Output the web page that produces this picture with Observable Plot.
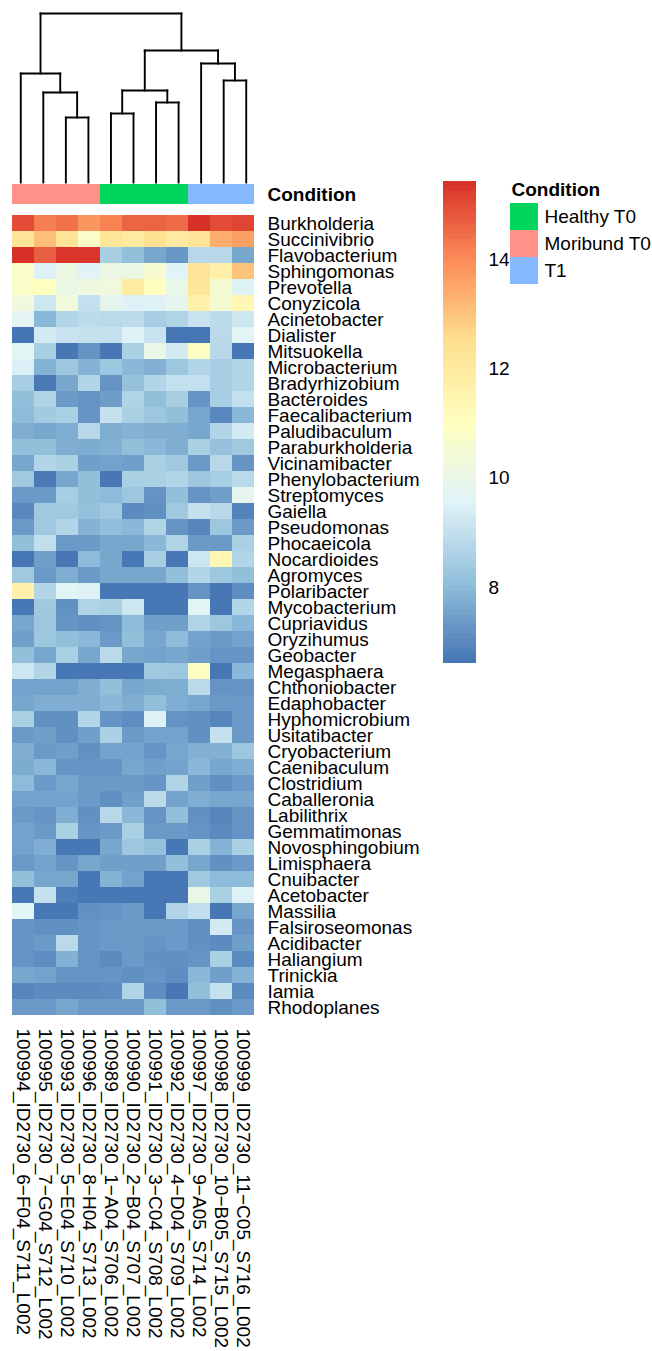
<!DOCTYPE html>
<html>
<head>
<meta charset="utf-8">
<script src="https://cdn.jsdelivr.net/npm/d3@7"></script>
<script src="https://cdn.jsdelivr.net/npm/@observablehq/plot@0.6"></script>
<style>
  html, body { margin: 0; padding: 0; background: #fff; }
  #chart { position: relative; width: 652px; height: 1351px; background: #fff; overflow: hidden; }
</style>
</head>
<body>
<div id="chart"></div>
<script>
// ---------------- data ----------------
const samples = [
  "100994_ID2730_6−F04_S711_L002",
  "100995_ID2730_7−G04_S712_L002",
  "100993_ID2730_5−E04_S710_L002",
  "100996_ID2730_8−H04_S713_L002",
  "100989_ID2730_1−A04_S706_L002",
  "100990_ID2730_2−B04_S707_L002",
  "100991_ID2730_3−C04_S708_L002",
  "100992_ID2730_4−D04_S709_L002",
  "100997_ID2730_9−A05_S714_L002",
  "100998_ID2730_10−B05_S715_L002",
  "100999_ID2730_11−C05_S716_L002"
];
const sampleCondition = [
  "Moribund T0","Moribund T0","Moribund T0","Moribund T0",
  "Healthy T0","Healthy T0","Healthy T0","Healthy T0",
  "T1","T1","T1"
];
const conditionLevels = ["Healthy T0", "Moribund T0", "T1"];
const conditionColors = ["#00D65C", "#FF9189", "#84B9FF"];

const genera = [
  "Burkholderia","Succinivibrio","Flavobacterium","Sphingomonas","Prevotella",
  "Conyzicola","Acinetobacter","Dialister","Mitsuokella","Microbacterium",
  "Bradyrhizobium","Bacteroides","Faecalibacterium","Paludibaculum","Paraburkholderia",
  "Vicinamibacter","Phenylobacterium","Streptomyces","Gaiella","Pseudomonas",
  "Phocaeicola","Nocardioides","Agromyces","Polaribacter","Mycobacterium",
  "Cupriavidus","Oryzihumus","Geobacter","Megasphaera","Chthoniobacter",
  "Edaphobacter","Hyphomicrobium","Usitatibacter","Cryobacterium","Caenibaculum",
  "Clostridium","Caballeronia","Labilithrix","Gemmatimonas","Novosphingobium",
  "Limisphaera","Cnuibacter","Acetobacter","Massilia","Falsiroseomonas",
  "Acidibacter","Haliangium","Trinickia","Iamia","Rhodoplanes"
];

// one row per genus, columns in the order of `samples`
const abundance = [
  [15.0,14.2,14.4,13.8,14.1,14.6,14.6,14.5,15.4,15.0,15.1],
  [12.3,13.1,12.3,10.8,12.2,12.0,12.4,12.0,12.3,13.4,13.6],
  [15.43,14.7,15.35,15.35,8.5,8.1,7.6,7.3,8.8,8.8,7.6],
  [10.8,9.5,10.1,9.6,10.1,10.1,10.6,9.55,12.3,11.7,13.0],
  [10.8,11.0,10.0,10.2,10.3,11.9,11.05,10.0,12.2,10.5,9.5],
  [10.3,9.2,10.3,9.0,9.8,9.5,9.5,9.8,11.7,10.5,11.4],
  [9.7,7.95,8.7,8.9,8.85,8.9,8.5,8.65,9.1,8.9,9.2],
  [6.61,9.3,9.1,9.05,9.05,9.5,9.1,6.62,6.62,8.85,9.65],
  [9.65,8.5,6.65,7.2,6.65,8.55,10.0,9.3,10.9,8.8,6.65],
  [9.45,7.85,8.3,7.85,8.3,7.95,7.8,8.3,8.7,8.5,8.7],
  [8.5,6.7,7.6,8.7,7.2,8.15,8.7,9.0,9.0,8.5,8.7],
  [8.1,8.65,7.35,7.2,7.4,8.65,8.1,8.5,7.25,8.5,9.0],
  [8.0,8.4,8.55,7.25,9.05,8.55,8.3,8.1,7.6,7.0,7.95],
  [7.75,7.6,7.75,8.8,7.75,7.85,7.75,7.75,7.6,8.7,9.3],
  [8.1,8.1,7.75,7.7,7.8,8.1,7.95,7.75,8.55,8.15,8.35],
  [7.6,8.7,8.55,7.45,7.5,7.45,8.55,8.35,7.35,8.8,7.25],
  [8.35,6.7,7.6,8.1,6.65,8.55,8.55,8.7,8.3,8.5,8.85],
  [7.35,7.35,8.5,8.1,8.0,8.3,7.2,8.1,7.2,7.45,9.8],
  [7.0,8.35,8.35,8.15,8.35,7.05,7.15,8.35,9.05,8.8,6.9],
  [7.35,8.35,8.7,7.85,8.1,7.95,8.65,7.25,6.95,8.3,7.35],
  [8.1,8.95,7.35,7.35,7.6,7.6,7.95,8.65,7.35,7.35,8.55],
  [6.65,7.45,6.65,8.0,7.6,6.65,8.5,6.65,9.2,11.4,8.7],
  [8.35,7.35,7.75,7.35,7.6,7.6,7.6,8.1,8.7,8.3,8.1],
  [11.7,8.7,9.65,9.5,6.65,6.65,6.65,6.65,7.2,6.65,7.1],
  [6.65,8.35,7.15,8.65,8.55,9.2,6.65,6.65,9.65,6.65,8.7],
  [7.6,8.3,7.25,7.15,7.25,8.0,7.45,7.45,8.65,8.3,7.95],
  [7.45,8.3,8.1,7.95,7.35,8.1,7.6,8.0,7.5,7.35,7.5],
  [8.1,7.6,8.55,7.6,8.85,7.6,7.5,7.6,7.45,7.25,7.25],
  [9.2,8.7,6.65,6.65,6.65,6.65,8.35,8.3,10.9,6.65,7.95],
  [7.5,7.5,7.5,7.75,8.1,7.6,7.7,7.75,8.85,7.2,7.25],
  [7.6,7.75,7.75,7.75,7.95,7.75,8.1,7.75,7.6,7.35,7.35],
  [8.55,7.15,7.15,8.7,7.25,7.1,9.5,7.2,7.15,6.95,7.35],
  [7.35,7.45,7.15,7.45,8.55,7.35,7.5,7.5,7.15,9.05,7.35],
  [7.75,7.35,7.45,7.15,7.5,7.5,7.25,7.6,7.8,7.8,8.3],
  [7.7,7.95,7.25,7.25,7.25,7.6,7.45,7.5,7.95,7.6,7.75],
  [8.0,7.35,7.6,7.35,7.35,7.35,7.25,8.65,7.45,7.15,7.35],
  [7.5,7.5,7.5,7.35,7.15,7.45,8.85,7.5,7.75,7.6,7.6],
  [7.35,7.25,7.75,7.15,8.8,7.95,7.25,8.1,7.15,6.95,7.2],
  [7.5,7.35,8.55,7.25,7.35,8.55,7.35,7.35,7.2,7.05,7.2],
  [7.5,7.75,6.65,6.65,7.6,8.3,8.15,6.65,8.55,7.85,8.55],
  [7.35,7.5,7.25,7.6,7.45,7.45,7.45,8.1,7.6,7.15,7.35],
  [8.1,7.6,7.6,6.65,7.85,7.5,6.65,6.65,8.35,8.0,8.0],
  [6.65,9.05,6.8,6.65,6.65,6.65,6.65,6.65,10.0,8.55,9.5],
  [9.65,6.65,6.65,7.15,7.25,7.35,6.65,8.65,8.95,6.65,7.6],
  [7.25,7.15,7.15,7.25,7.35,7.35,7.35,7.35,7.15,9.3,7.25],
  [7.25,7.35,8.85,7.25,7.35,7.35,7.25,7.35,7.15,7.05,7.45],
  [7.2,7.1,7.8,7.2,7.05,7.35,7.15,7.15,7.25,8.55,7.05],
  [7.6,7.5,7.2,7.2,7.25,7.15,7.25,7.1,7.95,7.45,7.85],
  [6.95,7.05,7.05,7.05,7.1,8.65,7.1,6.65,8.1,9.05,7.05],
  [7.35,7.35,7.6,7.35,7.35,7.35,8.1,7.35,7.35,7.15,7.35]
];

// colour scale
const colorMin = 6.61;
const colorMax = 15.43;
const palette = ["#4575B4","#91BFDB","#E0F3F8","#FFFFBF","#FEE090","#FC8D59","#D73027"];
const legendTicks = [8, 10, 12, 14];

// column dendrogram (hclust style: negative = leaf position (1-based), positive = earlier merge)
const mergeLeft   = [-3, -2, -1, -5, -7, 4, -10, -9, 6, 3];
const mergeRight  = [-4,  1,  2, -6, -8, 5, -11,  7, 8, 9];
const mergeHeight = [65, 90, 109, 69, 80, 92, 102, 119, 132, 169];

// ---------------- build ----------------
const FONT = "'Liberation Sans', Arial, Helvetica, sans-serif";
const root = document.getElementById("chart");
const breaks = palette.map((_, i) => colorMin + i * (colorMax - colorMin) / (palette.length - 1));
const colorOpts = {type: "linear", domain: breaks, range: palette, interpolate: "rgb"};

function place(svg, left, top) {
  svg.style.position = "absolute";
  svg.style.left = left + "px";
  svg.style.top = top + "px";
  svg.style.fontFamily = FONT;
  svg.style.fontSize = "19px";
  svg.style.background = "transparent";
  svg.style.overflow = "visible";
  root.appendChild(svg);
}

// dendrogram segments
const nodeX = [], nodeH = [];
function pos(ref) {
  if (ref < 0) return {x: -ref - 0.5, h: 0};
  return {x: nodeX[ref - 1], h: nodeH[ref - 1]};
}
const segs = [];
mergeHeight.forEach((h, i) => {
  const a = pos(mergeLeft[i]), b = pos(mergeRight[i]);
  nodeX[i] = (a.x + b.x) / 2; nodeH[i] = h;
  segs.push({x1: a.x, y1: a.h, x2: a.x, y2: h});
  segs.push({x1: b.x, y1: b.h, x2: b.x, y2: h});
  segs.push({x1: a.x, y1: h, x2: b.x, y2: h});
});

place(Plot.plot({
  width: 652, height: 184,
  marginLeft: 9, marginRight: 395, marginTop: 13, marginBottom: 2,
  x: {domain: [0, samples.length], axis: null},
  y: {domain: [0, d3.max(mergeHeight)], axis: null},
  marks: [
    Plot.link(segs, {x1: "x1", y1: "y1", x2: "x2", y2: "y2", stroke: "black", strokeWidth: 1.9, strokeLinecap: "square"})
  ]
}), 0, 0);

// annotation bar
const annot = samples.map((s, i) => ({sample: s, condition: sampleCondition[i]}));
place(Plot.plot({
  width: 652, height: 20,
  marginLeft: 9, marginRight: 395, marginTop: 0, marginBottom: 0,
  x: {type: "band", domain: samples, padding: 0, axis: null},
  color: {type: "ordinal", domain: conditionLevels, range: conditionColors},
  marks: [
    Plot.cell(annot, {x: "sample", fill: "condition", shapeRendering: "crispEdges"}),
    Plot.text(["Condition"], {text: d => d, frameAnchor: "right", dx: 10, textAnchor: "start", fontWeight: "bold", fill: "black"})
  ]
}), 0, 184);

// heatmap
const cells = [];
genera.forEach((g, r) => samples.forEach((s, c) => cells.push({genus: g, sample: s, value: abundance[r][c]})));
place(Plot.plot({
  width: 652, height: 1138,
  marginLeft: 9, marginRight: 395, marginTop: 0, marginBottom: 334,
  x: {type: "band", domain: samples, padding: 0, axis: "bottom", tickRotate: 90, tickSize: 0, tickPadding: 11, label: null},
  y: {type: "band", domain: genera, padding: 0, axis: "right", tickSize: 0, tickPadding: 10, label: null},
  color: colorOpts,
  marks: [
    Plot.cell(cells, {x: "sample", y: "genus", fill: "value", shapeRendering: "crispEdges"})
  ]
}), 0, 213);

// colour bar
const nSteps = 100;
const steps = d3.range(nSteps).map(i => {
  const y1 = colorMin + i * (colorMax - colorMin) / nSteps;
  const y2 = colorMin + (i + 1) * (colorMax - colorMin) / nSteps;
  return {y1, y2, mid: (y1 + y2) / 2};
});
place(Plot.plot({
  width: 80, height: 482,
  marginLeft: 0, marginRight: 47, marginTop: 0, marginBottom: 0,
  x: {domain: [0, 1], axis: null},
  y: {domain: [colorMin, colorMax], axis: "right", ticks: legendTicks, tickFormat: d => String(d), tickSize: 0, tickPadding: 12, label: null},
  color: colorOpts,
  marks: [
    Plot.rect(steps, {x1: 0, x2: 1, y1: "y1", y2: "y2", fill: "mid", shapeRendering: "crispEdges"})
  ]
}), 443, 181);

// condition legend
place(Plot.plot({
  width: 142, height: 115,
  marginLeft: 0, marginRight: 114, marginTop: 32, marginBottom: 0,
  x: {domain: [0, 1], axis: null},
  y: {type: "band", domain: conditionLevels, padding: 0, axis: null},
  color: {type: "ordinal", domain: conditionLevels, range: conditionColors},
  marks: [
    Plot.barX(conditionLevels, {x1: 0, x2: 1, y: d => d, fill: d => d, shapeRendering: "crispEdges"}),
    Plot.text(conditionLevels, {x: 1, y: d => d, text: d => d, dx: 6, textAnchor: "start", fill: "black"}),
    Plot.text(["Condition"], {text: d => d, frameAnchor: "top-left", dx: 1, dy: -13, textAnchor: "start", lineAnchor: "middle", fontWeight: "bold", fill: "black"})
  ]
}), 510, 170);
</script>
</body>
</html>
